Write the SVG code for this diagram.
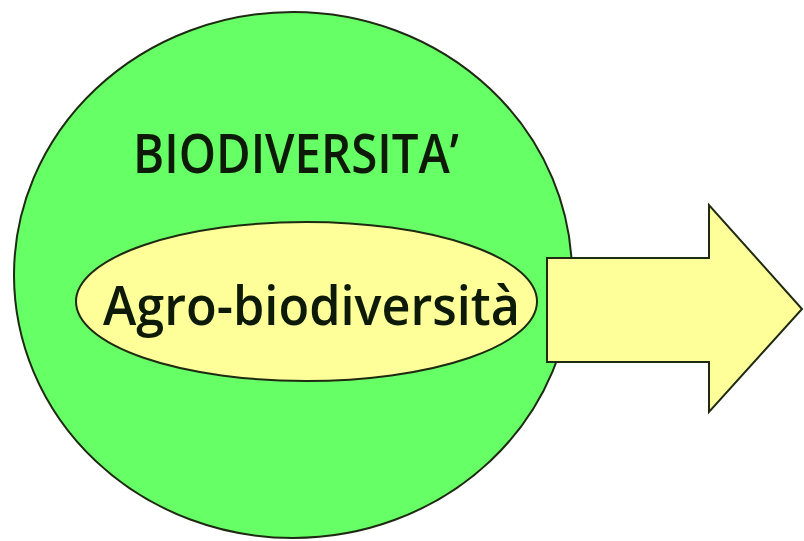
<svg xmlns="http://www.w3.org/2000/svg" width="804" height="541" viewBox="0 0 804 541">
  <style>
    .shape { stroke: #1e2a12; stroke-width: 2; stroke-linejoin: miter; }
    .green { fill: #66FF66; }
    .yellow { fill: #FFFF99; }
    .label { font-family: "Open Sans", "Noto Sans", "DejaVu Sans", sans-serif; font-weight: 600; fill: #0d1a08; font-size: 55px; }
  </style>
  <rect width="804" height="541" fill="#ffffff"/>
  <g id="biodiversita">
    <ellipse class="shape green" cx="293" cy="275" rx="279" ry="263"/>
    <text class="label" x="133" y="173" textLength="326" lengthAdjust="spacingAndGlyphs">BIODIVERSITA’</text>
  </g>
  <g id="agro-biodiversita">
    <ellipse class="shape yellow" cx="306.5" cy="301.5" rx="230.5" ry="79.5"/>
    <text class="label" x="103" y="325" textLength="417" lengthAdjust="spacingAndGlyphs">Agro-biodiversità</text>
  </g>
  <g id="connectors">
    <polygon id="arrow" class="shape yellow" points="547,258 709,258 709,205 802,309 709,412 709,362 547,362"/>
  </g>
</svg>
